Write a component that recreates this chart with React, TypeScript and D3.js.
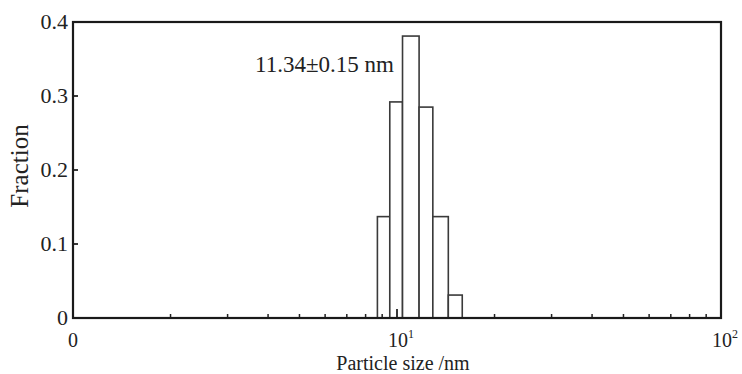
import React, { useEffect, useRef } from "react";
import * as d3 from "d3";

// histogram bins (nm) and their fractions
const binEdges = [8.7, 9.5, 10.4, 11.7, 12.9, 14.4, 15.9];
const fractions = [0.137, 0.292, 0.381, 0.285, 0.137, 0.031];
const yTicks = [0, 0.1, 0.2, 0.3, 0.4];
const xMajor = [1, 10, 100];
const xMajorLabels = ["0", "10", "10"];
const xMajorSup = ["", "1", "2"];
const annotation = "11.34\u00b10.15 nm";

export default function App() {
  const svgRef = useRef(null);

  useEffect(() => {
    const W = 742, H = 374;
    const left = 73, right = 721, top = 22, bottom = 318;
    const font = "'Liberation Serif', 'Times New Roman', serif";

    const svg = d3.select(svgRef.current).attr("width", W).attr("height", H);
    svg.selectAll("*").remove();

    const x = d3.scaleLog().domain([1, 100]).range([left, right]);
    const y = d3.scaleLinear().domain([0, 0.4]).range([bottom, top]);

    const g = svg.append("g");

    // bars
    const bins = fractions.map((f, i) => ({ x0: binEdges[i], x1: binEdges[i + 1], v: f }));
    g.selectAll("rect.bar")
      .data(bins)
      .enter()
      .append("rect")
      .attr("class", "bar")
      .attr("x", d => x(d.x0))
      .attr("y", d => y(d.v))
      .attr("width", d => x(d.x1) - x(d.x0))
      .attr("height", d => y(0) - y(d.v))
      .attr("fill", "#fff")
      .attr("stroke", "#3a3a3a")
      .attr("stroke-width", 1.6);

    // minor ticks on the x axis (inward)
    const minor = [];
    for (let d = 1; d < 100; d *= 10) {
      for (let k = 2; k <= 9; k++) minor.push(d * k);
    }
    g.selectAll("line.minor")
      .data(minor)
      .enter()
      .append("line")
      .attr("x1", d => x(d))
      .attr("x2", d => x(d))
      .attr("y1", bottom)
      .attr("y2", bottom - 4)
      .attr("stroke", "#222")
      .attr("stroke-width", 1.5);

    // major tick at 10^1
    g.append("line")
      .attr("x1", x(10)).attr("x2", x(10))
      .attr("y1", bottom).attr("y2", bottom - 9)
      .attr("stroke", "#222").attr("stroke-width", 1.8);

    // y ticks inward
    g.selectAll("line.ytick")
      .data(yTicks.slice(1, -1))
      .enter()
      .append("line")
      .attr("x1", left)
      .attr("x2", left + 5)
      .attr("y1", d => y(d))
      .attr("y2", d => y(d))
      .attr("stroke", "#222")
      .attr("stroke-width", 1.8);

    // frame
    g.append("rect")
      .attr("x", left).attr("y", top)
      .attr("width", right - left).attr("height", bottom - top)
      .attr("fill", "none").attr("stroke", "#1a1a1a").attr("stroke-width", 2.2);

    // y tick labels
    g.selectAll("text.ylab")
      .data(yTicks)
      .enter()
      .append("text")
      .attr("x", left - 5)
      .attr("y", d => y(d) + 7)
      .attr("text-anchor", "end")
      .attr("font-family", font)
      .attr("font-size", 22)
      .attr("fill", "#222")
      .text(d => (d === 0 ? "0" : d.toFixed(1)));

    // x tick labels
    xMajor.forEach((v, i) => {
      const t = g.append("text")
        .attr("x", x(v) + (i === 0 ? 0 : 4))
        .attr("y", 347)
        .attr("text-anchor", "middle")
        .attr("font-family", font)
        .attr("font-size", 20)
        .attr("fill", "#222");
      t.append("tspan").text(xMajorLabels[i]);
      if (xMajorSup[i]) {
        t.append("tspan").attr("dy", -9).attr("font-size", 12).text(xMajorSup[i]);
      }
    });

    // axis titles
    g.append("text")
      .attr("x", 403).attr("y", 370)
      .attr("text-anchor", "middle")
      .attr("font-family", font).attr("font-size", 20).attr("fill", "#222")
      .text("Particle size /nm");

    g.append("text")
      .attr("transform", `translate(28,166) rotate(-90)`)
      .attr("text-anchor", "middle")
      .attr("font-family", font).attr("font-size", 25).attr("fill", "#222")
      .text("Fraction");

    // annotation
    g.append("text")
      .attr("x", 255).attr("y", 72)
      .attr("font-family", font).attr("font-size", 23).attr("fill", "#222")
      .text(annotation);
  }, []);

  return (
    <div style={{ position: "fixed", top: 0, left: 0, width: 742, height: 374, overflow: "hidden" }}>
      <svg ref={svgRef} style={{ display: "block", background: "#fff" }}></svg>
    </div>
  );
}
